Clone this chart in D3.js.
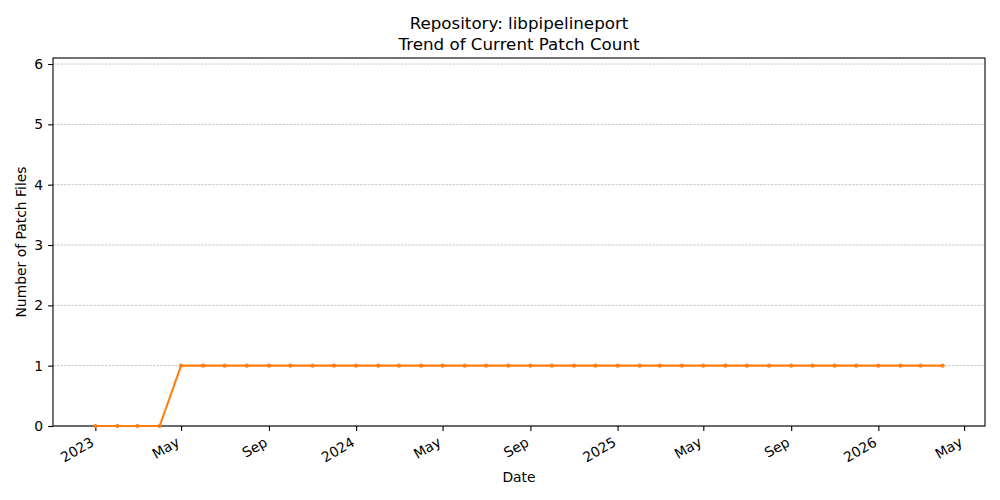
<!DOCTYPE html>
<html>
<head>
<meta charset="utf-8">
<script src="https://cdn.jsdelivr.net/npm/d3@7"></script>
<style>
  body { margin: 0; background: #fff; }
  svg text { font-family: "DejaVu Sans", sans-serif; fill: #000; }
</style>
</head>
<body>
<div id="graph"></div>
<script>
// monthly snapshots
const months = [
  "2023-01", "2023-02", "2023-03", "2023-04", "2023-05", "2023-06", "2023-07", "2023-08",
  "2023-09", "2023-10", "2023-11", "2023-12", "2024-01", "2024-02", "2024-03", "2024-04",
  "2024-05", "2024-06", "2024-07", "2024-08", "2024-09", "2024-10", "2024-11", "2024-12",
  "2025-01", "2025-02", "2025-03", "2025-04", "2025-05", "2025-06", "2025-07", "2025-08",
  "2025-09", "2025-10", "2025-11", "2025-12", "2026-01", "2026-02", "2026-03", "2026-04"
];
const patchCounts = [
  0, 0, 0, 0, 1, 1, 1, 1,
  1, 1, 1, 1, 1, 1, 1, 1,
  1, 1, 1, 1, 1, 1, 1, 1,
  1, 1, 1, 1, 1, 1, 1, 1,
  1, 1, 1, 1, 1, 1, 1, 1
];
const xTicks = ["2023-01", "2023-05", "2023-09", "2024-01", "2024-05", "2024-09",
  "2025-01", "2025-05", "2025-09", "2026-01", "2026-05"];
const xTickLabels = ["2023", "May", "Sep", "2024", "May", "Sep", "2025", "May", "Sep", "2026", "May"];
const yTicks = [0, 1, 2, 3, 4, 5, 6];

const titleLines = ["Repository: libpipelineport", "Trend of Current Patch Count"];

const parseMonth = d3.utcParse("%Y-%m");

draw = () => {
  const W = 1000, H = 500;
  const margin = { top: 58, right: 15, bottom: 74, left: 53 };
  const width = W - margin.left - margin.right,
    height = H - margin.top - margin.bottom;

  const data = months.map((m, i) => ({ dt: parseMonth(m), value: patchCounts[i] }));

  const svgRoot = d3.select("#graph").append("svg")
    .attr("width", W).attr("height", H);
  const svg = svgRoot.append("g")
    .attr("transform", "translate(" + margin.left + "," + margin.top + ")");

  // matplotlib-ish 5% padding on the time axis
  const [d0, d1] = d3.extent(data, d => d.dt);
  const pad = (d1 - d0) * 0.05;
  const x = d3.scaleUtc()
    .domain([new Date(+d0 - pad), new Date(+d1 + pad)])
    .range([0, width]);
  const y = d3.scaleLinear().domain([0, 6.1]).range([height, 0]);

  // horizontal grid
  svg.append("g")
    .selectAll("line")
    .data(yTicks)
    .enter()
    .append("line")
    .attr("x1", 0).attr("x2", width)
    .attr("y1", d => y(d)).attr("y2", d => y(d))
    .attr("stroke", "#b0b0b0")
    .attr("stroke-width", 0.7)
    .attr("stroke-dasharray", "2.6,1.1");

  // y axis
  svg.append("g")
    .call(d3.axisLeft(y).tickValues(yTicks).tickFormat(d3.format("d")).tickSize(4.9).tickPadding(4.9))
    .call(g => g.select(".domain").remove())
    .call(g => g.selectAll(".tick line").attr("stroke", "#000").attr("stroke-width", 1.1))
    .call(g => g.selectAll(".tick text").attr("font-size", "13.9px").attr("font-family", "DejaVu Sans"));

  // x axis, labels tilted like autofmt_xdate
  const xt = xTicks.map(parseMonth);
  const xa = svg.append("g")
    .attr("transform", "translate(0," + height + ")")
    .call(d3.axisBottom(x).tickValues(xt).tickFormat((d, i) => xTickLabels[i]).tickSize(4.9).tickPadding(4.9))
    .call(g => g.select(".domain").remove())
    .call(g => g.selectAll(".tick line").attr("stroke", "#000").attr("stroke-width", 1.1));
  xa.selectAll(".tick text")
    .attr("font-size", "13.9px")
    .attr("font-family", "DejaVu Sans")
    .attr("text-anchor", "end")
    .attr("x", 0)
    .attr("y", 0)
    .attr("dy", 0)
    .attr("transform", "translate(-1,19) rotate(-30)");

  // frame
  svg.append("rect")
    .attr("width", width).attr("height", height)
    .attr("fill", "none")
    .attr("stroke", "#000")
    .attr("stroke-width", 1.1);

  // the series
  const color = "#ff7f0e";
  svg.append("path")
    .datum(data)
    .attr("fill", "none")
    .attr("stroke", color)
    .attr("stroke-width", 2.1)
    .attr("stroke-linejoin", "round")
    .attr("d", d3.line().x(d => x(d.dt)).y(d => y(d.value)));

  svg.append("g")
    .selectAll("circle")
    .data(data)
    .enter()
    .append("circle")
    .attr("cx", d => x(d.dt))
    .attr("cy", d => y(d.value))
    .attr("r", 2.1)
    .attr("fill", color);

  // titles
  svgRoot.append("g")
    .selectAll("text")
    .data(titleLines)
    .enter()
    .append("text")
    .attr("x", margin.left + width / 2)
    .attr("y", (d, i) => 29 + i * 21)
    .attr("text-anchor", "middle")
    .attr("font-size", "16.7px")
    .text(d => d);

  svgRoot.append("text")
    .attr("x", margin.left + width / 2)
    .attr("y", 482)
    .attr("text-anchor", "middle")
    .attr("font-size", "13.9px")
    .text("Date");

  svgRoot.append("text")
    .attr("transform", "translate(26," + (margin.top + height / 2) + ") rotate(-90)")
    .attr("text-anchor", "middle")
    .attr("font-size", "13.9px")
    .text("Number of Patch Files");
};

window.addEventListener("DOMContentLoaded", evt => {
  draw();
});
</script>
</body>
</html>
